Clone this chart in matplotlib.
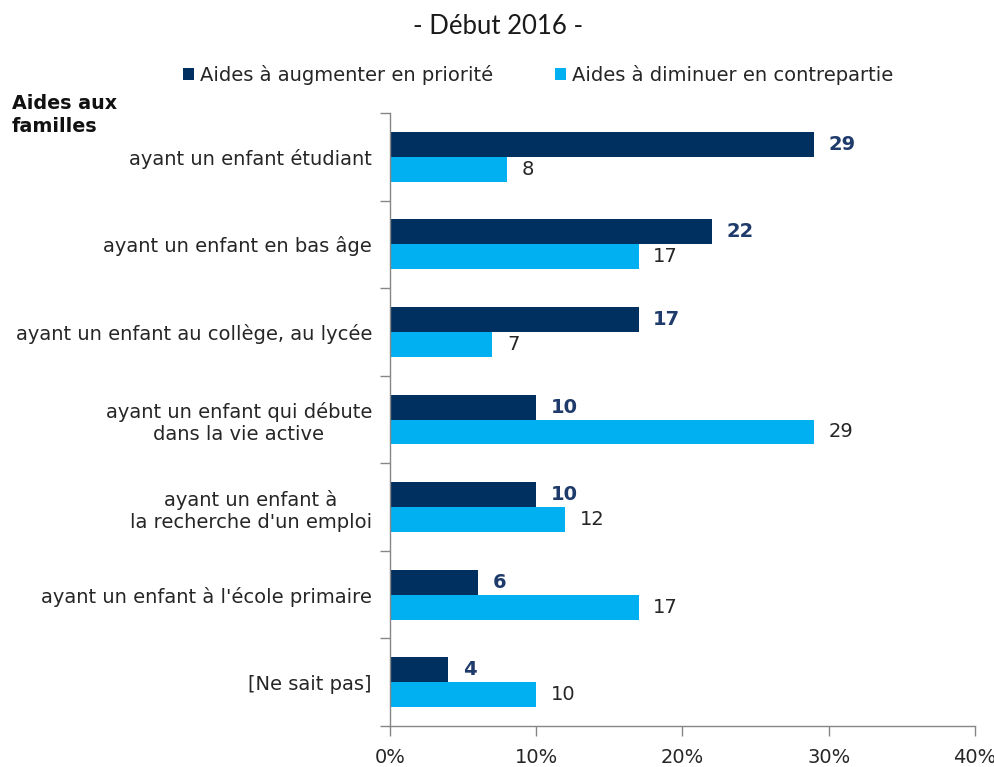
import matplotlib
matplotlib.use("Agg")
import matplotlib.pyplot as plt
import numpy as np
from matplotlib.ticker import FixedLocator, FuncFormatter

categories = [
    "ayant un enfant étudiant",
    "ayant un enfant en bas âge",
    "ayant un enfant au collège, au lycée",
    "ayant un enfant qui débute\ndans la vie active",
    "ayant un enfant à\nla recherche d'un emploi",
    "ayant un enfant à l'école primaire",
    "[Ne sait pas]",
]
augmenter = [29, 22, 17, 10, 10, 6, 4]
diminuer = [8, 17, 7, 29, 12, 17, 10]
series_names = ["Aides à augmenter en priorité", "Aides à diminuer en contrepartie"]
xticks = [0, 10, 20, 30, 40]

dark = "#00305F"
light = "#00B0F0"
grey = "#868686"

plt.rcParams['font.family'] = ['DejaVu Sans']

fig = plt.figure(figsize=(9.95, 7.67), dpi=100)
ax = fig.add_axes([390/995, 41/767, 585/995, 613/767])

n = len(categories)
y = np.arange(n)
h = 0.285
ax.barh(y - h/2, augmenter, height=h, color=dark, label=series_names[0])
ax.barh(y + h/2, diminuer, height=h, color=light, label=series_names[1])

for yi, v in zip(y, augmenter):
    ax.text(v + 1.0, yi - h/2, str(v), va='center', ha='left', fontsize=14,
            fontweight='bold', color="#1F3B6B")
for yi, v in zip(y, diminuer):
    ax.text(v + 1.0, yi + h/2, str(v), va='center', ha='left', fontsize=14,
            color="#262626")

ax.set_xlim(0, 40)
ax.set_ylim(n - 0.5, -0.5)
ax.set_xticks(xticks)
ax.xaxis.set_major_formatter(FuncFormatter(lambda v, p: f"{int(v)}%"))
ax.tick_params(axis='x', length=7, width=1, color=grey, labelsize=14,
               labelcolor="#262626", pad=9)

ax.set_yticks(y)
ax.set_yticklabels(categories)
for lab in ax.get_yticklabels():
    lab.set_multialignment('center')
ax.tick_params(axis='y', which='major', length=0, labelsize=14,
               labelcolor="#262626", pad=13)
ax.yaxis.set_minor_locator(FixedLocator(np.arange(n + 1) - 0.5))
ax.tick_params(axis='y', which='minor', length=7, width=1, color=grey)

for s in ['top', 'right']:
    ax.spines[s].set_visible(False)
for s in ['left', 'bottom']:
    ax.spines[s].set_color(grey)
    ax.spines[s].set_linewidth(1)

fig.text(498/995, 1 - 27/767, "- Début 2016 -", ha='center', va='center',
         fontsize=18.5, family='Lato', color="#1a1a1a")

leg = fig.legend(loc='center', bbox_to_anchor=(538/995, 1 - 75/767), ncol=2,
                 frameon=False, fontsize=14, handlelength=0.55, handleheight=0.55,
                 handletextpad=0.3, columnspacing=3.2)
for t in leg.get_texts():
    t.set_color("#262626")

fig.text(12/995, 1 - 115/767, "Aides aux\nfamilles", ha='left', va='center',
         fontsize=13.8, fontweight='bold', color="#111111", linespacing=1.25)

fig.savefig("out.png", dpi=100)
